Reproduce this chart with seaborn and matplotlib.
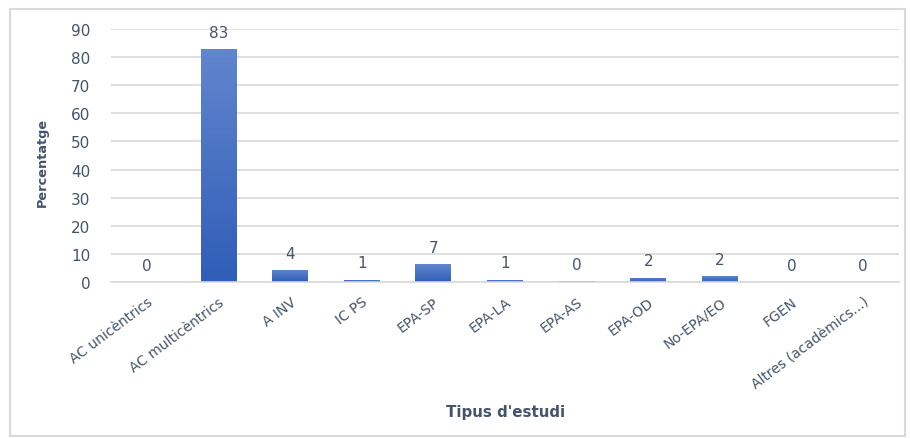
import numpy as np
import pandas as pd
import matplotlib
matplotlib.use("Agg")
import matplotlib.pyplot as plt
from matplotlib.patches import Rectangle
from matplotlib.colors import LinearSegmentedColormap
import seaborn as sns

categories = ["AC unicèntrics", "AC multicèntrics", "A INV", "IC PS", "EPA-SP",
              "EPA-LA", "EPA-AS", "EPA-OD", "No-EPA/EO", "FGEN", "Altres (acadèmics...)"]
values = [0.0, 82.9, 4.3, 0.8, 6.4, 0.8, 0.4, 1.6, 2.1, 0.0, 0.0]
labels = ["0", "83", "4", "1", "7", "1", "0", "2", "2", "0", "0"]
yticks = [0, 10, 20, 30, 40, 50, 60, 70, 80, 90]

sns.set_theme(style="white")
plt.rcParams['font.family'] = ['DejaVu Sans']
TXT = "#44546A"

df = pd.DataFrame({"cat": categories, "val": values})

fig = plt.figure(figsize=(9.12, 4.39), dpi=100)
W, H = 912, 439
ax = fig.add_axes([111 / W, 1 - 283 / H, (899 - 111) / W, (283 - 30) / H])

sns.barplot(data=df, x="cat", y="val", color="#4472C4", width=0.5, ax=ax,
            saturation=1, edgecolor="none")

# gradient fill clipped to each bar
cmap = LinearSegmentedColormap.from_list("g", ["#2F5DB7", "#6286CE"])
grad = np.linspace(0, 1, 256).reshape(-1, 1)
for p in ax.patches:
    x0, y0 = p.get_x(), p.get_y()
    w, h = p.get_width(), p.get_height()
    if h <= 0:
        continue
    p.set_facecolor("none")
    im = ax.imshow(grad, cmap=cmap, aspect="auto", origin="lower",
                   extent=[x0, x0 + w, y0, y0 + h], zorder=p.get_zorder())
    im.set_clip_path(p)

ax.set_xlim(-0.5, len(categories) - 0.5)
ax.set_ylim(0, 90)
ax.set_yticks(yticks)
ax.set_yticklabels([str(t) for t in yticks], fontsize=11, color=TXT)
ax.yaxis.grid(True, color="#D9D9D9", linewidth=1.2)
ax.set_axisbelow(True)
for s in ["top", "right", "left"]:
    ax.spines[s].set_visible(False)
ax.spines["bottom"].set_color("#D9D9D9")
ax.spines["bottom"].set_linewidth(1.2)
ax.tick_params(axis="both", length=0)
ax.tick_params(axis="y", pad=15)

ax.set_xticks(range(len(categories)))
ax.set_xticklabels(categories, rotation=37, ha="right", rotation_mode="anchor",
                   fontsize=10, color=TXT)
ax.tick_params(axis="x", pad=9)

for i, (v, lab) in enumerate(zip(values, labels)):
    ax.text(i, v + 3.3, lab, ha="center", va="bottom", fontsize=11, color=TXT)

ax.set_xlabel("")
ax.set_ylabel("")
fig.text(506 / W, 1 - 413 / H, "Tipus d'estudi", ha="center", va="center",
         fontsize=10.8, color=TXT, fontweight="bold")
fig.text(42 / W, 1 - 162 / H, "Percentatge", ha="center", va="center",
         rotation=90, fontsize=9.3, color=TXT, fontweight="bold")

fig.patches.append(Rectangle((10 / W, 2 / H), (905 - 10) / W, (429 - 2) / H,
                             transform=fig.transFigure, fill=False,
                             edgecolor="#D9D9D9", linewidth=1.5))

fig.savefig("out.png", dpi=100)
